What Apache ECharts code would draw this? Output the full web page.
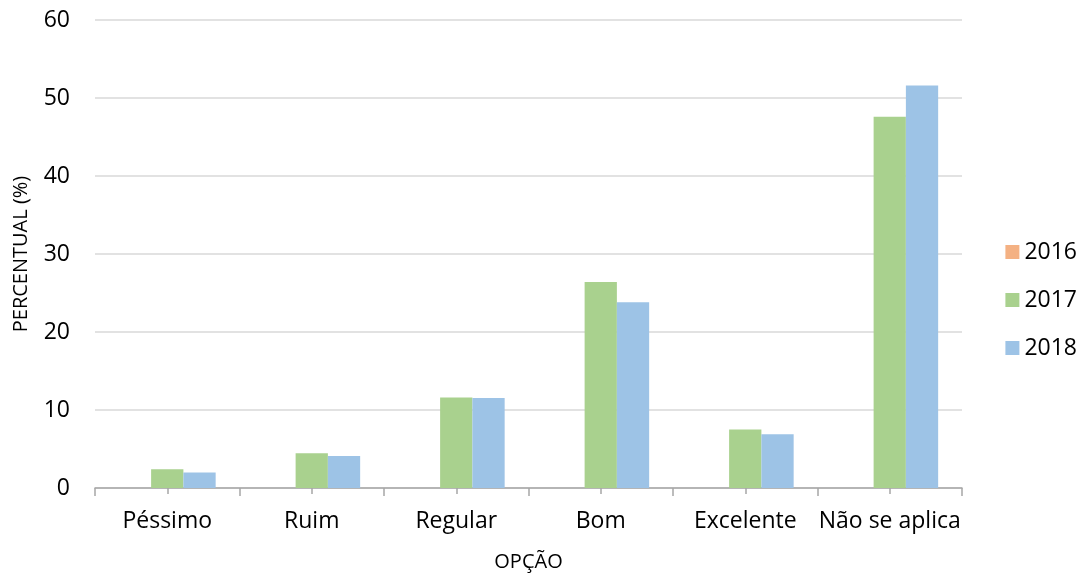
<!DOCTYPE html>
<html><head><meta charset="utf-8">
<script src="https://cdn.jsdelivr.net/npm/echarts@6/dist/echarts.min.js"></script>
<style>html,body{margin:0;padding:0;background:#fff}#c{width:1088px;height:578px}</style>
</head><body><div id="c"></div>
<script>
const categories = ['Péssimo', 'Ruim', 'Regular', 'Bom', 'Excelente', 'Não se aplica'];
const s2016 = [0, 0, 0, 0, 0, 0];
const s2017 = [2.4, 4.45, 11.6, 26.4, 7.5, 47.6];
const s2018 = [2.0, 4.1, 11.55, 23.8, 6.9, 51.6];
const yTicks = [0, 10, 20, 30, 40, 50, 60];

const font = '"Open Sans", "Liberation Sans", sans-serif';
const chart = echarts.init(document.getElementById('c'));
chart.setOption({
  animation: false,
  textStyle: { fontFamily: font },
  grid: { left: 95, right: 126, top: 20, bottom: 90, outerBoundsMode: 'none', containLabel: false },
  legend: {
    orient: 'vertical', right: 6, top: 235,
    itemWidth: 14, itemHeight: 14, itemGap: 24,
    icon: 'rect',
    textStyle: { fontSize: 23, lineHeight: 24, color: '#000', fontFamily: font },
    data: ['2016', '2017', '2018']
  },
  xAxis: [{
    type: 'category', data: categories,
    name: 'OPÇÃO', nameLocation: 'middle', nameGap: 64,
    nameTextStyle: { fontSize: 20, color: '#000', fontFamily: font },
    axisLine: { lineStyle: { color: '#A6A6A6', width: 1.5 } },
    axisTick: { show: true, length: 8, lineStyle: { color: '#A6A6A6', width: 1.5 } },
    axisLabel: { fontSize: 23, color: '#000', margin: 22, interval: 0, fontFamily: font },
    splitLine: { show: false }
  }, {
    type: 'category', data: categories, position: 'bottom', offset: -6,
    axisLine: { show: false },
    axisTick: { show: true, alignWithLabel: true, length: 12, lineStyle: { color: '#A6A6A6', width: 1.5 } },
    axisLabel: { show: false }
  }],
  yAxis: {
    type: 'value', min: 0, max: 60, interval: 10,
    name: 'PERCENTUAL (%)', nameLocation: 'middle', nameGap: 64, nameRotate: 90,
    nameTextStyle: { fontSize: 20, color: '#000', fontFamily: font },
    axisLine: { show: false },
    axisTick: { show: false },
    axisLabel: { fontSize: 23, color: '#000', margin: 25, fontFamily: font,
      formatter: v => yTicks.includes(v) ? String(v) : '' },
    splitLine: { lineStyle: { color: '#D9D9D9', width: 1.5 } }
  },
  series: [
    { name: '2016', type: 'bar', xAxisIndex: 0, data: s2016, itemStyle: { color: '#F4B183' }, barGap: '0%', barCategoryGap: '33%' },
    { name: '2017', type: 'bar', xAxisIndex: 0, data: s2017, itemStyle: { color: '#A9D18E' }, barGap: '0%', barCategoryGap: '33%' },
    { name: '2018', type: 'bar', xAxisIndex: 0, data: s2018, itemStyle: { color: '#9DC3E6' }, barGap: '0%', barCategoryGap: '33%' }
  ]
});
</script></body></html>
